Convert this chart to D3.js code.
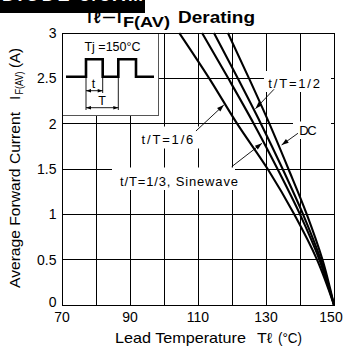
<!DOCTYPE html>
<html><head><meta charset="utf-8">
<script src="https://cdn.jsdelivr.net/npm/d3@7"></script>
<style>
body{margin:0;background:#fff}
svg{display:block}
text{font-family:"Liberation Sans",Arial,Helvetica,sans-serif;fill:#000}
</style>
</head><body>
<svg id="c" width="348" height="349"></svg>
<script>
// ---- data ----
const currents   = [0, 0.5, 1, 1.5, 2, 2.5, 3];            // IF(AV) (A)
const tempDC     = [150, 146.6, 142, 136.6, 131, 125, 118.8];
const tempHalf   = [150, 146.1, 140.9, 134.9, 128.5, 121.7, 114.7];
const tempThird  = [150, 145.7, 140, 133.4, 126.4, 118.9, 111.2];
const tempSixth  = [150, 145, 138.3, 130.5, 121.5, 113.3, 104.5];
const seriesNames = ["DC", "t/T=1/2", "t/T=1/3, Sinewave", "t/T=1/6"];
const xTickLabels = [70, 90, 110, 130, 150];
const xGridValues = [80, 90, 100, 110, 120, 130, 140];
const yTickLabels = [0, 0.5, 1, 1.5, 2, 2.5, 3];
// annotation arrows: [fromT, fromI, tipT, tipI]
const arrowDC    = [139.4, 1.894, 134.6, 1.765];
const arrowHalf  = [132.35, 2.379, 126.9, 2.165];
const arrowThird = [119.9, 1.525, 128.8, 1.783];
const arrowSixth = [109.4, 1.919, 117.6, 2.206];

const svg = d3.select("#c");
const x = d3.scaleLinear().domain([70, 150]).range([62, 334]);
const y = d3.scaleLinear().domain([0, 3]).range([305, 33]);

// top clipped header bar
svg.append("rect").attr("x", 0).attr("y", 0).attr("width", 145).attr("height", 13).attr("fill", "#000");
svg.append("text").attr("x", 2).attr("y", 1.2).attr("font-size", 18).attr("font-weight", "bold")
  .style("fill", "#fff").attr("textLength", 141).text("DIODE 3/3AM");

// grid
const g = svg.append("g").attr("stroke", "#000").attr("stroke-width", 1).attr("shape-rendering", "crispEdges");
g.selectAll(".vx").data(xGridValues).join("line")
  .attr("x1", d => x(d)).attr("x2", d => x(d)).attr("y1", y(0)).attr("y2", y(3));
g.selectAll(".hy").data(yTickLabels.filter(d => d > 0 && d < 3)).join("line")
  .attr("x1", x(70)).attr("x2", x(150)).attr("y1", d => y(d)).attr("y2", d => y(d));
g.append("rect").attr("x", x(70)).attr("y", y(3)).attr("width", x(150) - x(70)).attr("height", y(0) - y(3))
  .attr("fill", "none");

// white boxes behind in-plot labels
const boxes = [[264, 71, 67, 21], [293, 121.5, 38, 17.5], [138, 126.5, 61, 22], [112, 167.5, 123, 22.5]];
svg.selectAll(".bx").data(boxes).join("rect")
  .attr("x", d => d[0]).attr("y", d => d[1]).attr("width", d => d[2]).attr("height", d => d[3]).attr("fill", "#fff");

// inset box
const ins = svg.append("g").attr("transform", "translate(62,33)");
ins.append("rect").attr("x", 0).attr("y", 0).attr("width", 96).attr("height", 82)
  .attr("fill", "#fff").attr("stroke", "#555").attr("stroke-width", 1).attr("shape-rendering", "crispEdges");
svg.append("line").attr("x1", 62).attr("x2", 334).attr("y1", 33).attr("y2", 33).attr("stroke", "#000").attr("shape-rendering", "crispEdges");
svg.append("line").attr("x1", 62).attr("x2", 62).attr("y1", 33).attr("y2", 305).attr("stroke", "#000").attr("shape-rendering", "crispEdges");
ins.append("text").attr("x", 50.5).attr("y", 17.7).attr("text-anchor", "middle").attr("font-size", 12.5).text("Tj =150°C");
ins.append("path").attr("d", "M4,43.7H24V26.3H40.7V43.7H56.3V26.3H74V43.7H92")
  .attr("fill", "none").attr("stroke", "#000").attr("stroke-width", 2.6);
const thin = ins.append("g").attr("stroke", "#000").attr("stroke-width", 0.9);
thin.append("line").attr("x1", 24).attr("x2", 24).attr("y1", 44).attr("y2", 77);
thin.append("line").attr("x1", 40.7).attr("x2", 40.7).attr("y1", 44).attr("y2", 60);
thin.append("line").attr("x1", 56.3).attr("x2", 56.3).attr("y1", 44).attr("y2", 77);
thin.append("line").attr("x1", 24).attr("x2", 40.7).attr("y1", 57.7).attr("y2", 57.7);
thin.append("line").attr("x1", 24).attr("x2", 56.3).attr("y1", 74.7).attr("y2", 74.7);
function head(sel, x1, y1, x2, y2, len, hw) {
  const dx = x2 - x1, dy = y2 - y1, L = Math.hypot(dx, dy), ux = dx / L, uy = dy / L;
  const bx = x2 - ux * len, by = y2 - uy * len;
  sel.append("path").attr("d", `M${x2},${y2}L${bx - uy * hw},${by + ux * hw}L${bx + uy * hw},${by - ux * hw}Z`).attr("fill", "#000");
}
head(ins, 40.7, 57.7, 24, 57.7, 5, 1.8); head(ins, 24, 57.7, 40.7, 57.7, 5, 1.8);
head(ins, 56.3, 74.7, 24, 74.7, 5, 1.8); head(ins, 24, 74.7, 56.3, 74.7, 5, 1.8);
ins.append("text").attr("x", 31.5).attr("y", 55).attr("text-anchor", "middle").attr("font-size", 12.5).text("t");
ins.append("text").attr("x", 40).attr("y", 71.5).attr("text-anchor", "middle").attr("font-size", 12.5).text("T");

// derating curves
const series = [tempDC, tempHalf, tempThird, tempSixth];
const line = d3.line().x(d => x(d[0])).y(d => y(d[1])).curve(d3.curveMonotoneY);
svg.append("g").selectAll("path").data(series).join("path")
  .attr("d", s => line(s.map((t, i) => [t, currents[i]])))
  .attr("fill", "none").attr("stroke", "#000").attr("stroke-width", 2.1);

// annotation arrows
const arrows = [arrowDC, arrowHalf, arrowThird, arrowSixth];
const ag = svg.append("g");
arrows.forEach(a => {
  const x1 = x(a[0]), y1 = y(a[1]), x2 = x(a[2]), y2 = y(a[3]);
  ag.append("line").attr("x1", x1).attr("y1", y1).attr("x2", x2).attr("y2", y2).attr("stroke", "#000").attr("stroke-width", 0.9);
  head(ag, x1, y1, x2, y2, 7, 2.4);
});

// in-plot labels
const labelPos = [[299.3, 135, 17.4], [268.3, 87.5, 51.7], [120, 185.5, 118], [141.6, 143.5, 51.7]];
seriesNames.forEach((n, i) => {
  const p = labelPos[i];
  svg.append("text").attr("x", p[0]).attr("y", p[1]).attr("font-size", 13)
    .attr("textLength", p[2]).attr("lengthAdjust", "spacing").text(n);
});

// tick labels
svg.selectAll(".yt").data(yTickLabels).join("text")
  .attr("x", 56.5).attr("y", d => y(d) + (d === 0 ? 1.8 : 5)).attr("text-anchor", "end").attr("font-size", 14)
  .text(d => d);
svg.selectAll(".xt").data(xTickLabels).join("text")
  .attr("x", d => x(d) - (d === 150 ? 3 : 0)).attr("y", 321.7).attr("text-anchor", "middle").attr("font-size", 14)
  .text(d => d);

// title
const tt = svg.append("g");
function ttext(xx, yy, size, len, str) {
  const t = tt.append("text").attr("x", xx).attr("y", yy).attr("font-size", size).attr("font-weight", "bold").text(str);
  if (len) t.attr("textLength", len).attr("lengthAdjust", "spacingAndGlyphs");
  return t;
}
ttext(85, 22.7, 16, 16, "Tℓ");
ttext(103, 21.5, 14, 12, "—");
ttext(117, 22.7, 16, null, "I");
ttext(123, 26.5, 14.5, 47, "F(AV)");
ttext(178, 22.7, 16, 77, "Derating");

// x axis title
function htext(xx, size, len, str) {
  return svg.append("text").attr("x", xx).attr("y", 343).attr("font-size", size)
    .attr("textLength", len).attr("lengthAdjust", "spacingAndGlyphs").text(str);
}
htext(115, 14.5, 131, "Lead Temperature");
htext(257, 14.5, 15, "Tℓ");
htext(278, 14.5, 24, "(°C)");

// y axis title (rotated)
function vtext(cx, cy, size, len, str) {
  const t = svg.append("text").attr("transform", `translate(${cx},${cy}) rotate(-90)`)
    .attr("text-anchor", "middle").attr("font-size", size).text(str);
  if (len) t.attr("textLength", len).attr("lengthAdjust", "spacingAndGlyphs");
  return t;
}
vtext(20, 200, 15, 176, "Average Forward Current");
vtext(20, 98, 15, null, "I");
vtext(23, 83, 11, 23, "F(AV)");
vtext(20, 58, 15, 20, "(A)");
</script>
</body></html>
